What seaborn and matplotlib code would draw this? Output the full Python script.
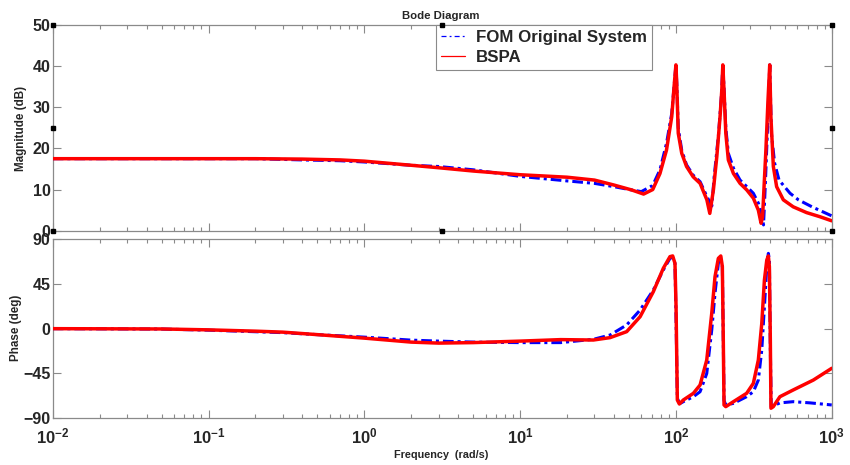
import matplotlib
matplotlib.use("Agg")
import matplotlib.pyplot as plt
from matplotlib.lines import Line2D
from matplotlib.ticker import LogLocator, NullFormatter, FixedLocator, FixedFormatter
import seaborn as sns

# ---------------- data ----------------
series_names = ["FOM Original System", "BSPA"]

# magnitude (dB) of the full-order model
mag_freq_fom = [0.01, 0.05, 0.2, 0.4, 0.7, 1, 2, 3, 5, 10, 20, 30, 40, 52, 60, 71, 79, 87,
                94, 97.7, 100, 101.2, 103.5, 109, 117, 129, 143, 158, 170, 176, 188, 196,
                200, 204, 209, 217, 234, 258, 285, 314, 338, 355, 365, 375, 386, 395, 400,
                410, 430, 459, 540, 611, 747, 1000]
mag_fom = [17.5, 17.5, 17.5, 17.2, 17.0, 16.7, 15.9, 15.6, 14.8, 13.2, 12.1, 11.5, 10.7, 9.9,
           9.5, 11.0, 14.8, 21.2, 28.5, 35.8, 40.3, 36.0, 25.0, 19.5, 16.0, 13.5, 11.9, 8.3,
           6.0, 13.1, 23.7, 33.0, 40.3, 34.0, 25.0, 18.8, 15.2, 12.3, 10.7, 9.1, 6.7, 3.9,
           1.4, 11.5, 23.7, 34.0, 40.3, 23.7, 16.4, 12.3, 9.1, 7.5, 5.8, 3.6]

# magnitude (dB) of the BSPA reduced model
mag_freq_bspa = [0.01, 0.05, 0.2, 0.4, 0.7, 1, 2, 3, 5, 10, 20, 30, 40, 52, 62, 71, 79, 87,
                 94, 97.7, 100, 101.2, 103.5, 109, 117, 129, 143, 158, 165, 174, 183, 192,
                 197, 200, 204, 209, 217, 234, 258, 285, 314, 338, 352, 360, 367, 378, 390,
                 400, 407, 422, 443, 489, 566, 689, 839, 1000]
mag_bspa = [17.5, 17.5, 17.5, 17.4, 17.2, 16.9, 15.9, 15.3, 14.5, 13.6, 13.0, 12.3, 11.1, 9.9,
            8.9, 10.0, 13.9, 19.6, 27.7, 35.8, 40.3, 35.8, 23.7, 18.8, 15.6, 13.1, 11.5, 7.5,
            4.2, 9.9, 18.0, 27.7, 34.2, 40.3, 33.4, 23.7, 17.2, 13.9, 11.5, 9.9, 7.9, 5.0,
            1.8, 3.4, 9.9, 19.6, 31.8, 40.3, 27.7, 15.6, 10.7, 7.5, 5.8, 4.4, 3.4, 2.4]

# phase (deg) of the full-order model
ph_freq_fom = [0.01, 0.05, 0.1, 0.3, 0.5, 1, 2, 3, 5, 10, 18.2, 29.5, 37.8, 48.3, 58.9, 71.6,
               83, 91.6, 95.3, 98.6, 100.2, 102.1, 105.8, 111.6, 129.4, 142.9, 157.7, 169.8,
               178.2, 187.2, 192, 198.6, 201.4, 203.6, 208.9, 233.9, 284.4, 314, 338, 355.6,
               369.8, 383, 392, 398, 403.6, 409, 465.6, 566, 726, 1000]
ph_fom = [0, -0.4, -1.5, -4, -6, -8.5, -11.5, -12.5, -13.5, -14, -14, -10.7, -6.4, 3.7, 18.7,
          38.8, 58.9, 70.6, 71.6, 65.6, 10, -70, -75.3, -73.3, -68.3, -63.3, -45, -1.3, 35.5,
          65.6, 71.6, 62.2, -10, -72, -76.6, -75, -68.3, -63.3, -51.6, -21.5, 22.1, 62.2,
          75.6, 69, -20, -78.3, -74.5, -73.3, -74.5, -76.6]

# phase (deg) of the BSPA reduced model
ph_freq_bspa = [0.01, 0.05, 0.1, 0.2, 0.3, 0.5, 1, 2, 3, 5, 10, 18.2, 29.5, 37.8, 48.3, 58.9,
                71.6, 83, 91.6, 95.3, 98.6, 100.2, 102.1, 105.2, 111.6, 129.4, 142.9, 157.7,
                169.8, 178.2, 187.2, 194.1, 198.6, 201.4, 203.6, 208.9, 233.9, 284.4, 314,
                338, 355.6, 369.8, 383, 392, 398, 403.6, 407.4, 421.7, 465, 565, 762, 1000]
ph_bspa = [0, -0.3, -1.2, -2.5, -3.5, -6, -9.5, -13.5, -14.5, -14, -12.5, -11, -11.4, -9.0,
           -3.0, 12.0, 37.1, 60.6, 72.3, 73.0, 65.6, 22.1, -71.6, -75.6, -71.6, -64.9, -56.6,
           -31.5, 15.4, 52.2, 70.6, 73.0, 62.2, -11.4, -76.6, -78.3, -73.3, -64.9, -54.9,
           -31.5, 5.1, 48.8, 68.9, 73.0, 62.2, -11.4, -79.9, -78.3, -68.3, -61.6, -51.6, -39.8]

x_ticks = [0.01, 0.1, 1, 10, 100, 1000]
x_tick_labels = [r"$\mathbf{10^{-2}}$", r"$\mathbf{10^{-1}}$", r"$\mathbf{10^{0}}$",
                 r"$\mathbf{10^{1}}$", r"$\mathbf{10^{2}}$", r"$\mathbf{10^{3}}$"]
mag_ticks = [0, 10, 20, 30, 40, 50]
ph_ticks = [-90, -45, 0, 45, 90]

# ---------------- style ----------------
sns.set_theme(style="white")
plt.rcParams["font.family"] = ["Liberation Sans", "DejaVu Sans"]
plt.rcParams["font.weight"] = "bold"
plt.rcParams["mathtext.fontset"] = "custom"
plt.rcParams["mathtext.rm"] = "Liberation Sans"
plt.rcParams["mathtext.bf"] = "Liberation Sans:bold"

BLUE = "#0000ff"
RED = "#ff0000"
GRAY = "#8a8a8a"
DASHDOT = (0, (3.5, 1.3, 1.0, 1.3))

fig = plt.figure(figsize=(8.5, 4.65), dpi=100)
fig.patch.set_facecolor("white")
ax_mag = fig.add_axes([0.062, 0.5039, 0.9165, 0.4424])
ax_ph = fig.add_axes([0.062, 0.1004, 0.9165, 0.3856])

# curves
sns.lineplot(x=mag_freq_fom, y=mag_fom, ax=ax_mag, color=BLUE, lw=2.2,
             linestyle=DASHDOT, estimator=None, sort=False, zorder=3)
sns.lineplot(x=mag_freq_bspa, y=mag_bspa, ax=ax_mag, color=RED, lw=2.5,
             estimator=None, sort=False, zorder=4)
sns.lineplot(x=ph_freq_fom, y=ph_fom, ax=ax_ph, color=BLUE, lw=2.2,
             linestyle=DASHDOT, estimator=None, sort=False, zorder=3)
sns.lineplot(x=ph_freq_bspa, y=ph_bspa, ax=ax_ph, color=RED, lw=2.5,
             estimator=None, sort=False, zorder=4)

for ax in (ax_mag, ax_ph):
    ax.set_xscale("log")
    ax.set_xlim(0.01, 1000)
    ax.xaxis.set_major_locator(FixedLocator(x_ticks))
    ax.xaxis.set_minor_locator(LogLocator(base=10, subs=range(2, 10), numticks=20))
    ax.xaxis.set_minor_formatter(NullFormatter())
    ax.set_facecolor("white")
    for sp in ax.spines.values():
        sp.set_color(GRAY)
        sp.set_linewidth(0.9)
    ax.tick_params(which="both", direction="in", top=True, bottom=True, left=True,
                   right=True, color=GRAY, width=0.8)
    ax.tick_params(which="major", length=6)
    ax.tick_params(which="minor", length=3.2)
    ax.tick_params(axis="y", labelsize=11.5, pad=1.5)
    ax.tick_params(axis="x", labelsize=12, pad=6)
    ax.set_xlabel("")
    ax.set_ylabel("")

ax_mag.set_ylim(0, 50)
ax_mag.set_yticks(mag_ticks)
ax_mag.xaxis.set_major_formatter(NullFormatter())

ax_ph.set_ylim(-90, 90)
ax_ph.set_yticks(ph_ticks)
ax_ph.xaxis.set_major_formatter(FixedFormatter(x_tick_labels))

for lbl in ax_mag.get_yticklabels() + ax_ph.get_yticklabels():
    lbl.set_fontweight("bold")

# legend with thin sample lines
handles = [Line2D([], [], color=BLUE, lw=0.9, linestyle=(0, (4, 2.5, 1.5, 2.5))),
           Line2D([], [], color=RED, lw=0.9)]
leg = ax_mag.legend(handles, series_names, loc="upper left", bbox_to_anchor=(0.492, 1.0),
                    prop={"weight": "bold", "size": 12.2}, frameon=True, fancybox=False,
                    edgecolor=GRAY, framealpha=1, handlelength=1.4, handletextpad=0.65,
                    borderpad=0.3, labelspacing=0.3, borderaxespad=0)
leg.get_frame().set_linewidth(0.8)
leg.set_zorder(10)

# edit-mode handles on the magnitude axes box
hx = [0, 0.5, 1, 0, 1, 0, 0.5, 1]
hy = [0, 0, 0, 0.5, 0.5, 1, 1, 1]
ax_mag.plot(hx, hy, "s", ms=2.6, color="black", transform=ax_mag.transAxes,
            clip_on=False, zorder=12)

# titles and axis labels
fig.text(441 / 850, 1 - 16 / 465, "Bode Diagram", ha="center", va="center",
         fontsize=8.2, fontweight="bold")
fig.text(21 / 850, 1 - 128 / 465, "Magnitude (dB)", ha="center", va="center",
         rotation=90, fontsize=8.4, fontweight="bold")
fig.text(16 / 850, 1 - 328 / 465, "Phase (deg)", ha="center", va="center",
         rotation=90, fontsize=8.4, fontweight="bold")
fig.text(441 / 850, 1 - 455 / 465, "Frequency  (rad/s)", ha="center", va="center",
         fontsize=7.8, fontweight="bold")

fig.savefig("out.png", dpi=100, facecolor="white")
